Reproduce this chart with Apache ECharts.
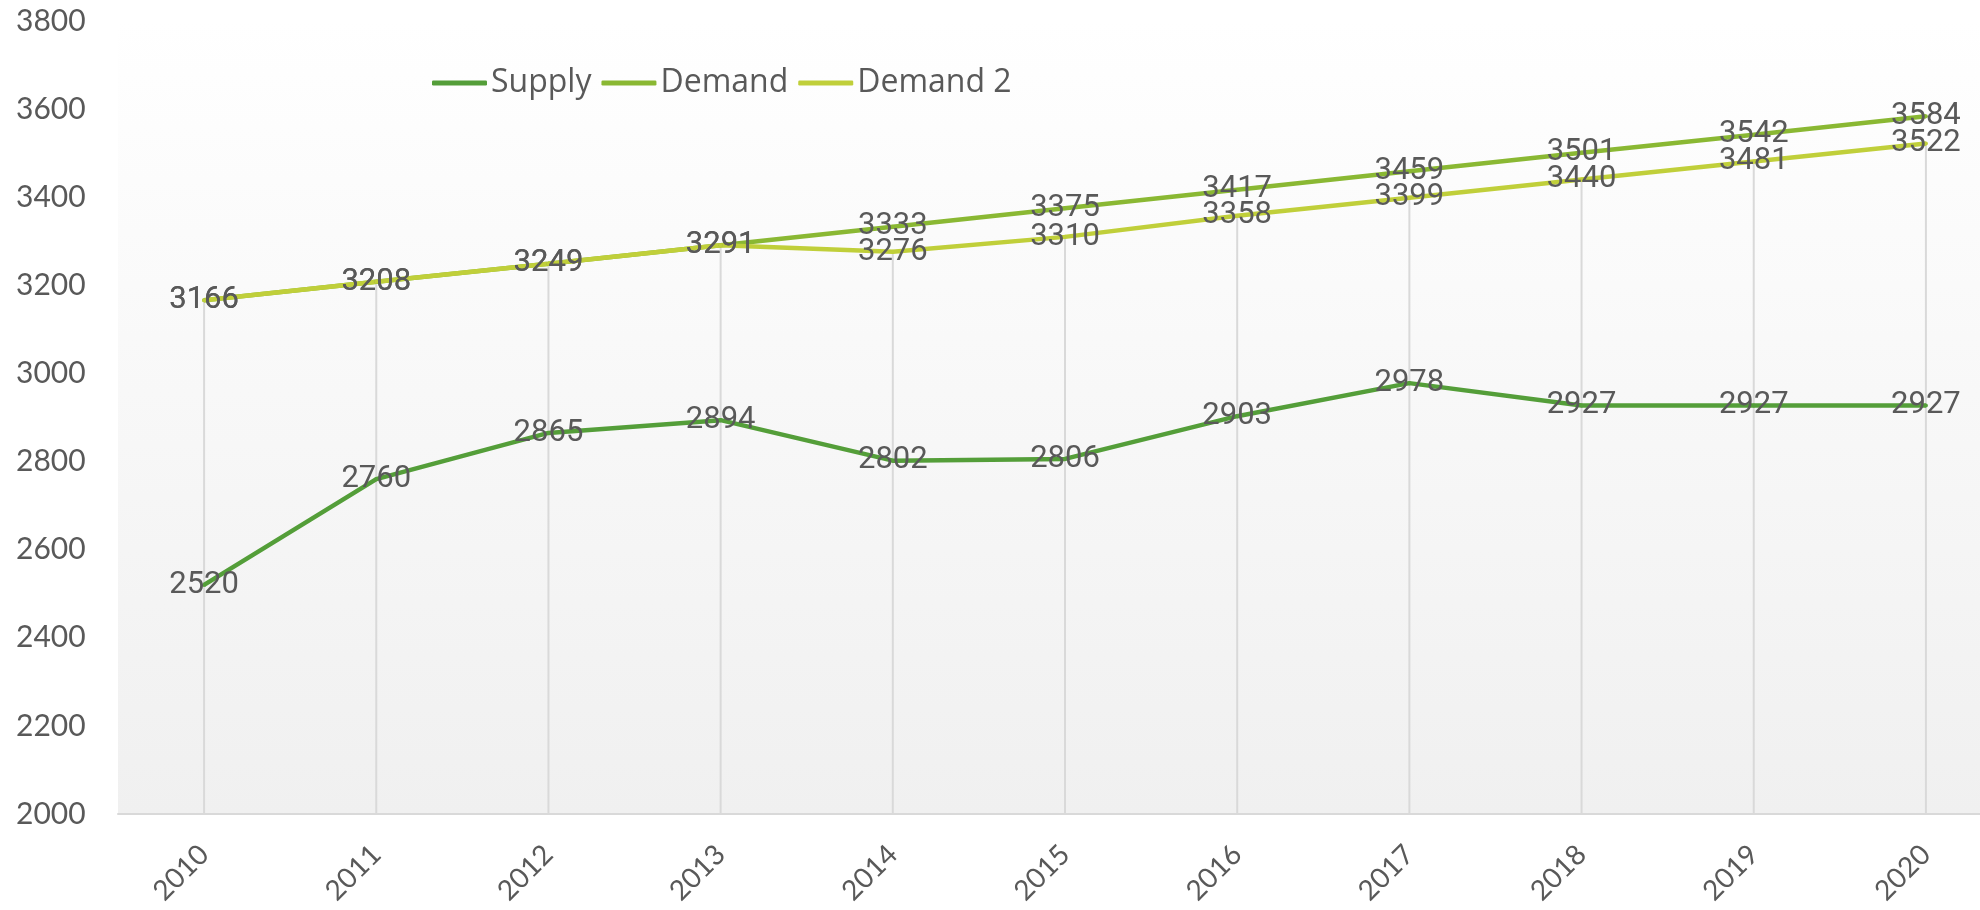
<!DOCTYPE html>
<html>
<head>
    <meta charset="utf-8" />
    <title>Supply / Demand</title>
    <script src="https://cdn.jsdelivr.net/npm/echarts@6/dist/echarts.min.js"></script>
    <style>
        *{
            margin:0;
            padding:0;
        }
        body{
            background:#fff;
            overflow:hidden;
        }
        /* the last category band runs past the right edge of the window, as in the original */
        #main{
            width:2012px;
            height:910px;
        }
    </style>
</head>
<body>
<div id="main"></div>
<script type="text/javascript">
    // data
    var years = ['2010','2011','2012','2013','2014','2015','2016','2017','2018','2019','2020'];
    var supply = [2520, 2760, 2865, 2894, 2802, 2806, 2903, 2978, 2927, 2927, 2927];
    var demand = [3166, 3208, 3249, 3291, 3333, 3375, 3417, 3459, 3501, 3542, 3584];
    var demand2 = [3166, 3208, 3249, 3291, 3276, 3310, 3358, 3399, 3440, 3481, 3522];
    var seriesNames = ['Supply', 'Demand', 'Demand 2'];

    var textColor = '#595959';
    var axisFont = 'Lato, "Open Sans", sans-serif';
    var legendFont = '"Open Sans", Lato, sans-serif';
    var labelFont = 'Roboto, "Noto Sans", sans-serif';

    var myChart = echarts.init(document.getElementById('main'));

    function lineSeries(name, data, color){
        return {
            name: name,
            type: 'line',
            data: data,
            color: color,
            symbol: 'circle',
            symbolSize: 4,
            lineStyle: {width: 4.5, color: color},
            itemStyle: {color: color},
            label: {
                show: true,
                position: 'inside',
                color: textColor,
                fontSize: 31,
                fontFamily: labelFont
            },
            emphasis: {disabled: true},
            z: 3
        };
    }

    var option = {
        animation: false,
        grid: {
            left: 118,
            right: 0,
            top: 21,
            bottom: 96,
            show: true,
            borderWidth: 0,
            backgroundColor: new echarts.graphic.LinearGradient(0, 0, 0, 1, [
                {offset: 0, color: '#ffffff'},
                {offset: 1, color: '#f0f0f0'}
            ])
        },
        legend: {
            data: seriesNames,
            left: 427,
            top: 62,
            icon: 'roundRect',
            itemWidth: 55,
            itemHeight: 5,
            itemGap: 10,
            textStyle: {
                color: textColor,
                fontSize: 32,
                fontFamily: legendFont,
                padding: [0, 0, 0, -1]
            }
        },
        xAxis: {
            type: 'category',
            data: years,
            boundaryGap: true,
            axisLine: {show: true, lineStyle: {color: '#d9d9d9', width: 2}},
            axisTick: {show: false},
            splitLine: {show: false},
            axisLabel: {
                rotate: 45,
                margin: 36,
                color: textColor,
                fontSize: 28,
                fontFamily: axisFont
            }
        },
        yAxis: {
            type: 'value',
            min: 2000,
            max: 3800,
            interval: 200,
            axisLine: {show: false},
            axisTick: {show: false},
            splitLine: {show: false},
            axisLabel: {
                align: 'left',
                margin: 102,
                color: textColor,
                fontSize: 30,
                fontFamily: axisFont,
                formatter: function(v){
                    return String(v);
                }
            }
        },
        series: [
            {
                // drop lines down to the axis
                name: 'drop',
                type: 'bar',
                data: demand2,
                barWidth: 2,
                itemStyle: {color: '#d9d9d9'},
                emphasis: {disabled: true},
                clip: true,
                z: 1
            },
            lineSeries(seriesNames[0], supply, '#549e39'),
            lineSeries(seriesNames[1], demand, '#8ab833'),
            lineSeries(seriesNames[2], demand2, '#c0cf3a')
        ]
    };

    myChart.setOption(option);
</script>
</body>
</html>
